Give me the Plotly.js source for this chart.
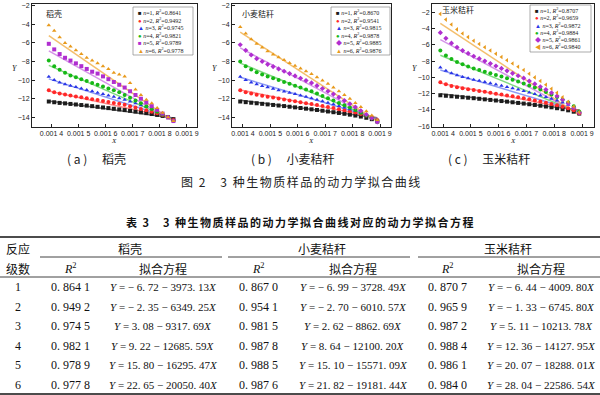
<!DOCTYPE html>
<html><head><meta charset="utf-8">
<script src="https://cdn.plot.ly/plotly-3.0.1.min.js"></script>
<style>html,body{margin:0;padding:0;background:#fff}#chart{width:600px;height:395px}</style>
</head><body><div id="chart"></div>
<script>
// ---------------- data ----------------
const sampleNames = ['稻壳', '小麦秸秆', '玉米秸秆'];
const panelTags = ['a', 'b', 'c'];
const xTickVals = [0.0014, 0.0015, 0.0016, 0.0017, 0.0018, 0.0019];
const xTickText = ['0.001 4', '0.001 5', '0.001 6', '0.001 7', '0.001 8', '0.001 9'];

const xA = [0.00139,0.00141,0.00143,0.00145,0.00147,0.00149,0.00151,0.00153,0.00155,0.00157,0.00159,0.00161,0.00163,0.00165,0.00167,0.00169,0.00171,0.00173,0.00175,0.00177,0.00179,0.00181,0.00183,0.00185];
const xB = [0.00139,0.00141,0.00143,0.00145,0.00147,0.00149,0.00151,0.00153,0.00155,0.00157,0.00159,0.00161,0.00163,0.00165,0.00167,0.00169,0.00171,0.00173,0.00175,0.00177,0.00179,0.00181,0.00183,0.00185,0.00187,0.00189];
const xC = [0.00139,0.00141,0.00143,0.00145,0.00147,0.00149,0.00151,0.00153,0.00155,0.00157,0.00159,0.00161,0.00163,0.00165,0.00167,0.00169,0.00171,0.00173,0.00175,0.00177,0.00179,0.00181,0.00183,0.00185,0.00187,0.00189];

// panel (a) 稻壳
const yA1 = [-12.3,-12.38,-12.45,-12.5,-12.56,-12.62,-12.68,-12.74,-12.8,-12.87,-12.94,-13.01,-13.08,-13.15,-13.22,-13.3,-13.38,-13.46,-13.55,-13.64,-13.74,-13.85,-13.98,-14.2];
const yA2 = [-11.1,-11.3,-11.45,-11.55,-11.65,-11.75,-11.85,-11.95,-12.05,-12.15,-12.25,-12.35,-12.45,-12.55,-12.65,-12.8,-12.95,-13.1,-13.25,-13.4,-13.55,-13.75,-14.0,-14.3];
const yA3 = [-9.65,-10.0,-10.25,-10.45,-10.6,-10.75,-10.9,-11.05,-11.2,-11.35,-11.5,-11.65,-11.8,-11.95,-12.1,-12.3,-12.5,-12.7,-12.9,-13.1,-13.35,-13.6,-13.95,-14.35];
const yA4 = [-7.9,-8.5,-8.9,-9.2,-9.5,-9.7,-9.9,-10.1,-10.3,-10.5,-10.7,-10.9,-11.1,-11.3,-11.6,-11.9,-12.2,-12.5,-12.8,-13.1,-13.4,-13.7,-14.0,-14.4];
const yA5 = [-6.1,-6.7,-7.2,-7.6,-7.9,-8.2,-8.5,-8.8,-9.1,-9.3,-9.6,-9.9,-10.2,-10.5,-10.8,-11.2,-11.6,-12.0,-12.4,-12.8,-13.2,-13.6,-14.0,-14.4];
const yA6 = [-4.1,-4.7,-5.4,-6.0,-6.4,-6.8,-7.2,-7.6,-7.9,-8.2,-8.5,-8.8,-9.2,-9.4,-9.6,-10.3,-11.0,-11.6,-12.1,-12.5,-13.0,-13.5,-14.0,-14.4];
// panel (b) 小麦秸秆
const yB1 = [-12.3,-12.37,-12.43,-12.49,-12.55,-12.61,-12.67,-12.73,-12.79,-12.86,-12.93,-13.0,-13.07,-13.14,-13.21,-13.29,-13.37,-13.45,-13.53,-13.62,-13.71,-13.81,-13.92,-14.05,-14.2,-14.45];
const yB2 = [-11.1,-11.3,-11.45,-11.57,-11.68,-11.78,-11.88,-11.98,-12.08,-12.18,-12.28,-12.38,-12.48,-12.58,-12.68,-12.79,-12.9,-13.01,-13.12,-13.24,-13.36,-13.49,-13.63,-13.8,-14.0,-14.3];
const yB3 = [-9.65,-10.0,-10.25,-10.45,-10.62,-10.78,-10.93,-11.08,-11.22,-11.36,-11.5,-11.65,-11.8,-11.95,-12.1,-12.27,-12.44,-12.6,-12.77,-12.94,-13.12,-13.3,-13.5,-13.72,-13.98,-14.3];
const yB4 = [-8.0,-8.5,-8.85,-9.15,-9.4,-9.6,-9.8,-10.0,-10.2,-10.4,-10.6,-10.8,-11.0,-11.2,-11.45,-11.7,-11.95,-12.2,-12.45,-12.7,-12.95,-13.2,-13.5,-13.8,-14.1,-14.45];
const yB5 = [-6.2,-6.8,-7.3,-7.7,-8.0,-8.3,-8.55,-8.8,-9.05,-9.3,-9.55,-9.8,-10.05,-10.3,-10.6,-10.9,-11.2,-11.5,-11.85,-12.2,-12.55,-12.9,-13.3,-13.7,-14.1,-14.5];
const yB6 = [-4.3,-5.0,-5.6,-6.1,-6.5,-6.9,-7.25,-7.55,-7.85,-8.15,-8.45,-8.75,-9.05,-9.35,-9.7,-10.05,-10.4,-10.8,-11.2,-11.6,-12.0,-12.45,-12.9,-13.35,-13.8,-14.3];
// panel (c) 玉米秸秆
const yC1 = [-12.2,-12.26,-12.32,-12.38,-12.44,-12.5,-12.56,-12.63,-12.7,-12.77,-12.84,-12.91,-12.98,-13.06,-13.14,-13.22,-13.3,-13.39,-13.48,-13.58,-13.68,-13.79,-13.91,-14.05,-14.22,-14.45];
const yC2 = [-10.6,-10.85,-11.05,-11.2,-11.33,-11.45,-11.56,-11.67,-11.78,-11.89,-12.0,-12.11,-12.22,-12.33,-12.45,-12.57,-12.7,-12.83,-12.97,-13.11,-13.26,-13.42,-13.6,-13.8,-14.05,-14.4];
const yC3 = [-8.8,-9.2,-9.5,-9.75,-9.95,-10.12,-10.28,-10.43,-10.58,-10.73,-10.88,-11.03,-11.18,-11.33,-11.5,-11.67,-11.85,-12.03,-12.22,-12.42,-12.63,-12.85,-13.1,-13.38,-13.7,-14.2];
const yC4 = [-6.7,-7.3,-7.75,-8.1,-8.4,-8.65,-8.9,-9.1,-9.3,-9.5,-9.7,-9.9,-10.1,-10.3,-10.5,-10.75,-11.0,-11.25,-11.5,-11.8,-12.1,-12.4,-12.75,-13.1,-13.55,-14.2];
const yC5 = [-4.5,-5.2,-5.8,-6.3,-6.7,-7.05,-7.4,-7.7,-8.0,-8.3,-8.6,-8.9,-9.2,-9.5,-9.8,-10.1,-10.45,-10.8,-11.15,-11.5,-11.9,-12.3,-12.75,-13.2,-13.75,-14.35];
const yC6 = [-2.2,-2.9,-3.5,-4.1,-4.6,-5.05,-5.5,-5.9,-6.3,-6.7,-7.1,-7.5,-7.9,-8.3,-8.7,-9.1,-9.55,-10.0,-10.45,-10.9,-11.4,-11.9,-12.45,-13.0,-13.6,-14.3];

// fitted equations  Y = intercept - slope * X   and R²
const interceptA = [-6.72, -2.35, 3.08, 9.22, 15.80, 22.65];
const slopeA = [3973.13, 6349.25, 9317.69, 12685.59, 16295.47, 20050.40];
const r2A = [0.8641, 0.9492, 0.9745, 0.9821, 0.9789, 0.9778];
const interceptB = [-6.99, -2.70, 2.62, 8.64, 15.10, 21.82];
const slopeB = [3728.49, 6010.57, 8862.69, 12100.20, 15571.09, 19181.44];
const r2B = [0.8670, 0.9541, 0.9815, 0.9878, 0.9885, 0.9876];
const interceptC = [-6.44, -1.33, 5.11, 12.36, 20.07, 28.04];
const slopeC = [4009.80, 6745.80, 10213.78, 14127.95, 18288.01, 22586.54];
const r2C = [0.8707, 0.9659, 0.9872, 0.9884, 0.9861, 0.9840];
const orders = ['1', '2', '3', '4', '5', '6'];

// ---------------- styles / layout helpers ----------------
const W = 600, H = 395;
const px = v => v / W, py = v => 1 - v / H;
const colors = ['#1c1c1c', '#ff2828', '#2a36e6', '#16b816', '#b02ed0', '#e89a1c'];
const lineColors = ['rgba(60,60,60,0.75)', 'rgba(255,90,90,0.7)', 'rgba(80,100,240,0.65)', 'rgba(60,200,60,0.65)', 'rgba(190,90,220,0.65)', 'rgba(240,170,60,0.75)'];
const serif = 'Liberation Serif, Noto Sans CJK SC, serif';
const sans = 'Liberation Sans, Noto Sans CJK SC, sans-serif';
const cjk = 'Noto Sans CJK SC, sans-serif';
// styled spans that always carry an explicit size
const it = (s, sz) => `<span style="font-style:italic;font-size:${sz}px">${s}</span>`;
const col = (s, c, sz) => `<span style="color:${c};font-size:${sz}px">${s}</span>`;
const pl = (s, sz) => `<span style="font-size:${sz}px">${s}</span>`;

const panels = [
  {x: xA, ys: [yA1, yA2, yA3, yA4, yA5, yA6], ic: interceptA, sl: slopeA, r2: r2A,
   box: [32, 197, 4, 127], xr: [0.001328, 0.001937], yr: [-15.04, -1.82],
   syms: ['square', 'circle', 'triangle-up', 'circle', 'square', 'triangle-up'], glyph: ['■', '●', '▲', '●', '■', '▲'],
   lbl: [44, 14], leg: [133, 193, 7, 55], rows: [12, 19.5, 27, 34.5, 42, 49.5], yT: [15, 68], xT: [114, 141], cap: 96},
  {x: xB, ys: [yB1, yB2, yB3, yB4, yB5, yB6], ic: interceptB, sl: slopeB, r2: r2B,
   box: [232, 391, 4, 127], xr: [0.00136, 0.00194], yr: [-15.04, -1.82],
   syms: ['square', 'circle', 'triangle-up', 'circle', 'diamond', 'triangle-up'], glyph: ['■', '●', '▲', '●', '◆', '▲'],
   lbl: [240, 14], leg: [331, 390, 7, 55], rows: [12, 19.5, 27, 34.5, 42, 49.5], yT: [215, 68], xT: [311, 141], cap: 293},
  {x: xC, ys: [yC1, yC2, yC3, yC4, yC5, yC6], ic: interceptC, sl: slopeC, r2: r2C,
   box: [432, 594, 4, 127], xr: [0.00136, 0.001943], yr: [-16.1, -0.98],
   syms: ['square', 'circle', 'triangle-up', 'circle', 'diamond', 'triangle-left'], glyph: ['■', '●', '▲', '●', '◆', '◀'],
   lbl: [440, 9], leg: [530, 591, 5, 52], rows: [10, 17, 24.5, 32, 39, 46.5], yT: [415, 68], xT: [513, 141], cap: 489}
];

const traces = [];
const layout = {
  width: W, height: H, margin: {l: 0, r: 0, t: 0, b: 0},
  paper_bgcolor: '#fff', plot_bgcolor: '#fff', showlegend: false,
  font: {family: sans, color: '#111'},
  annotations: [], shapes: []
};
const ann = (x, y, text, o = {}) => layout.annotations.push(Object.assign({
  xref: 'paper', yref: 'paper', x: px(x), y: py(y), text, showarrow: false,
  xanchor: 'center', yanchor: 'middle', font: {family: serif, size: 11, color: '#111'}
}, o));
const hline = (x0, x1, y, w) => layout.shapes.push({type: 'line', xref: 'paper', yref: 'paper',
  x0: px(x0), x1: px(x1), y0: py(y), y1: py(y), line: {color: '#111', width: w}});

panels.forEach((p, k) => {
  const sx = k === 0 ? '' : String(k + 1);
  const xa = 'x' + sx, ya = 'y' + sx;
  const axBase = {showline: true, mirror: true, linecolor: '#222', linewidth: 1, ticks: 'inside', ticklen: 3,
    tickcolor: '#222', showgrid: false, zeroline: false, tickfont: {family: sans, size: 7, color: '#222'}};
  layout['xaxis' + sx] = Object.assign({}, axBase, {domain: [px(p.box[0]), px(p.box[1])], range: p.xr,
    anchor: ya, tickmode: 'array', tickvals: xTickVals, ticktext: xTickText});
  layout['yaxis' + sx] = Object.assign({}, axBase, {domain: [py(p.box[3]), py(p.box[2])], range: p.yr,
    anchor: xa, dtick: 2, tick0: 0});
  // fitted lines
  p.ys.forEach((ys, i) => {
    const xe = [p.x[0], p.x[p.x.length - 1]];
    traces.push({type: 'scatter', mode: 'lines', x: xe, y: xe.map(v => p.ic[i] - p.sl[i] * v),
      xaxis: xa, yaxis: ya, line: {color: lineColors[i], width: 1.5}, hoverinfo: 'skip'});
  });
  // measured points
  p.ys.forEach((ys, i) => {
    traces.push({type: 'scatter', mode: 'markers', x: p.x, y: ys, xaxis: xa, yaxis: ya,
      marker: {symbol: p.syms[i], size: 4, color: colors[i], line: {width: 0}}});
  });
  // in-panel label
  ann(p.lbl[0], p.lbl[1], sampleNames[k], {xanchor: 'left', font: {family: cjk, size: 8, color: '#222'}});
  // axis titles
  ann(p.yT[0], p.yT[1], it('Y', 8), {font: {family: serif, size: 8, color: '#222'}});
  ann(p.xT[0], p.xT[1], it('X', 7), {font: {family: serif, size: 7, color: '#222'}});
  // legend
  layout.shapes.push({type: 'rect', xref: 'paper', yref: 'paper', x0: px(p.leg[0]), x1: px(p.leg[1]),
    y0: py(p.leg[3]), y1: py(p.leg[2]), line: {color: '#888', width: 0.7}, fillcolor: '#fff'});
  p.rows.forEach((ry, i) => {
    ann(p.leg[0] + 3, ry, col(p.glyph[i], colors[i], 6) + pl(' ', 6) + it('n', 6) + pl('=' + (i + 1) + ', ', 6) +
      it('R', 6) + '<sup>2</sup>' + pl('=' + p.r2[i].toFixed(4), 6),
      {xanchor: 'left', font: {family: serif, size: 6, color: '#222'}});
  });
  // caption
  ann(p.cap, 158, `( ${panelTags[k]} )　 ${sampleNames[k]}`, {font: {family: cjk, size: 12, color: '#222'}});
});

ann(301, 181, '<span style="letter-spacing:1.5px;font-size:12px">图 2　3 种生物质样品的动力学拟合曲线</span>', {font: {family: cjk, size: 12, color: '#222'}});
ann(300, 222, '<span style="letter-spacing:1.5px;font-size:11px">表 3　3 种生物质样品的动力学拟合曲线对应的动力学拟合方程</span>', {font: {family: cjk, size: 11, color: '#111', weight: 'bold'}});

// ---------------- table ----------------
const fmtR2 = v => { const s = v.toFixed(4); return s.slice(0, 2) + ' ' + s.slice(2, 5) + ' ' + s.slice(5); };
const fmtN = v => Math.abs(v).toFixed(2).replace('.', '. ');
const eq = (a, b) => it('Y', 11) + pl(' = ' + (a < 0 ? '− ' + fmtN(a) : fmtN(a)) + ' − ' + fmtN(b), 11) + it('X', 11);

hline(0, 600, 237, 1.6);
hline(40, 222, 257, 0.8); hline(228, 410, 257, 0.8); hline(418, 600, 257, 0.8);
hline(0, 600, 277, 0.8);
hline(0, 600, 394, 1.6);

ann(18, 248, '反应', {font: {family: cjk, size: 12, color: '#111'}});
ann(18, 268, '级数', {font: {family: cjk, size: 12, color: '#111'}});
const groupX = [130, 322, 508], r2X = [70, 258, 447], eqX = [163, 353, 541];
panels.forEach((p, k) => {
  ann(groupX[k], 248, sampleNames[k], {font: {family: cjk, size: 12, color: '#111'}});
  ann(r2X[k], 268, it('R', 12) + '<sup>2</sup>', {font: {family: serif, size: 12, color: '#111'}});
  ann(eqX[k], 268, '拟合方程', {font: {family: cjk, size: 12, color: '#111'}});
});
const rowY = [287, 307, 326, 346, 365, 385];
orders.forEach((o, i) => {
  ann(18, rowY[i], o, {font: {family: serif, size: 12, color: '#111'}});
  panels.forEach((p, k) => {
    ann(r2X[k], rowY[i], fmtR2(p.r2[i]), {font: {family: serif, size: 12, color: '#111'}});
    ann(eqX[k], rowY[i], eq(p.ic[i], p.sl[i]), {font: {family: serif, size: 11, color: '#111'}});
  });
});

Plotly.newPlot('chart', traces, layout, {staticPlot: true});
</script></body></html>
